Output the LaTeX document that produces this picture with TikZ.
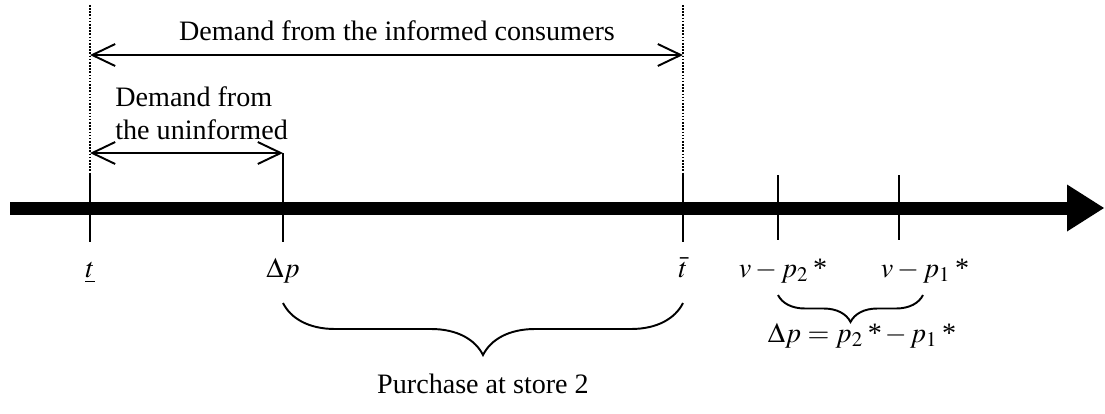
\documentclass[tikz,border=0pt]{standalone}
\usepackage{mathptmx}
\usepackage{fontspec}
\setmainfont{Liberation Serif}
\usetikzlibrary{arrows.meta,positioning,decorations.pathreplacing}

\begin{document}
\begin{tikzpicture}[x=0.02cm,y=-0.02cm,
  font=\fontsize{16}{19}\selectfont,
  tickline/.style={line width=1.1pt},
  guide/.style={dash pattern=on 0.9pt off 0.9pt,line width=1.2pt},
  demandarrow/.style={line width=1.1pt,
    {Straight Barb[length=0.46cm,width=0.44cm]}-{Straight Barb[length=0.46cm,width=0.44cm]}},
  bracedown/.style={decorate,decoration={brace,mirror,amplitude=#1},line width=1.1pt},
  lab/.style={anchor=base,inner sep=0pt}]
\useasboundingbox (0,0) rectangle (1105,413);

% the axis
\coordinate (start) at (10,208);
\coordinate (end) at (1104,208);
\draw[line width=0.26cm,-{Triangle[length=0.74cm,width=0.94cm,line width=0pt]}] (start) -- (end);

\foreach \x in {90,683} \draw[tickline] (\x,173) -- (\x,242);
\draw[tickline] (283,153) -- (283,242);
\foreach \x in {778,899} \draw[tickline] (\x,175) -- (\x,240);

\draw[guide] (90,5) -- (90,173);
\draw[guide] (683,5) -- (683,173);

% demand arrows
\coordinate (inf_l) at (90,55);
\coordinate (inf_r) at (683,55);
\coordinate (uninf_l) at (90,153);
\coordinate (uninf_r) at (283,153);
\draw[demandarrow] (inf_l) -- (inf_r);
\draw[demandarrow] (uninf_l) -- (uninf_r);
\node[lab] (informed) at (397,40) {Demand from the informed consumers};
\node[anchor=north west,inner sep=0pt,align=left] (uninformed) at (115,86) {Demand from\\the uninformed};

% labels under the axis
\node[lab] (t_low) at (90,277) {$\underline{t}$};
\node[lab] (dp) at (283,277) {$\Delta p$};
\node[lab] (t_high) at (683,277) {$\bar{t}$};
\node[lab] (v_p2) at (783,277) {$v-p_2$\,*};
\node[lab] (v_p1) at (925,277) {$v-p_1$\,*};

% braces
\coordinate (store_l) at (283,303);
\coordinate (store_r) at (683,303);
\draw[bracedown=1.04cm] (store_l) -- (store_r);
\node[lab] (store) at (483,393) {Purchase at store 2};

\coordinate (gap_l) at (778,295);
\coordinate (gap_r) at (923,295);
\draw[bracedown=0.54cm] (gap_l) -- (gap_r);
\node[lab] (gap) at (862,342) {$\Delta p = p_2$\,*$\,-\,p_1$\,*};
\end{tikzpicture}
\end{document}
